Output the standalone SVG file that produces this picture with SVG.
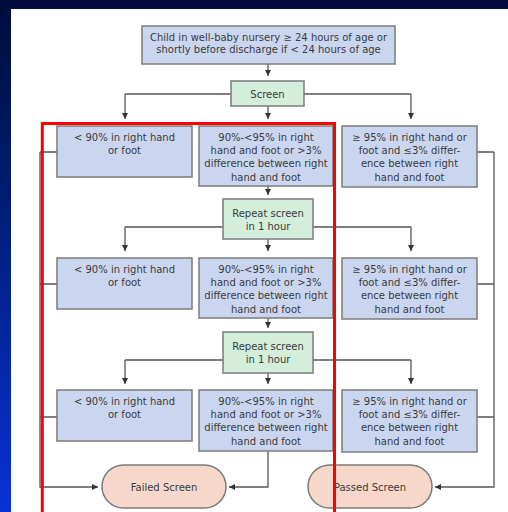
<svg xmlns="http://www.w3.org/2000/svg" width="508" height="512" viewBox="0 0 508 512">
<defs>
<linearGradient id="bg" x1="0" y1="0" x2="0" y2="1">
<stop offset="0" stop-color="#000c3a"/>
<stop offset="0.35" stop-color="#001c6e"/>
<stop offset="1" stop-color="#0832d6"/>
</linearGradient>
<marker id="ah" markerUnits="userSpaceOnUse" markerWidth="6" markerHeight="6" refX="6" refY="3" orient="auto">
<path d="M0,0 L6,3 L0,6 z" fill="#333"/>
</marker>
<style>
.box{fill:#cad6f0;stroke:#7b7b7b;stroke-width:1.5}
.grn{fill:#d3eedb;stroke:#7b7b7b;stroke-width:1.5}
.pill{fill:#f6d7ca;stroke:#7b7b7b;stroke-width:1.5}
text{font-family:"DejaVu Sans",Verdana,sans-serif;font-size:10px;fill:#3a3a3a;text-anchor:middle}
.c{fill:none;stroke:#555;stroke-width:1.3}
.a{marker-end:url(#ah)}
</style>
</defs>
<rect x="0" y="0" width="508" height="512" fill="url(#bg)"/>
<rect x="11" y="9" width="497" height="503" fill="#ffffff"/>

<g id="connectors">
<path class="c a" d="M268,64 V76"/>
<path class="c" d="M231,94 H125"/>
<path class="c a" d="M125,94 V119"/>
<path class="c" d="M304,94 H411"/>
<path class="c a" d="M411,94 V119"/>
<path class="c a" d="M268,106 V119"/>
<path class="c a" d="M268,186 V195"/>
<path class="c" d="M223,227 H125"/>
<path class="c a" d="M125,227 V251"/>
<path class="c" d="M313,227 H411"/>
<path class="c a" d="M411,227 V251"/>
<path class="c a" d="M268,239 V251"/>
<path class="c a" d="M268,318 V328"/>
<path class="c" d="M223,360 H125"/>
<path class="c a" d="M125,360 V384"/>
<path class="c" d="M313,360 H411"/>
<path class="c a" d="M411,360 V384"/>
<path class="c a" d="M268,373 V384"/>
<path class="c" d="M57,152 H40 M57,284 H40 M57,417 H40"/>
<path class="c a" d="M40,152 V487 H98"/>
<path class="c a" d="M268,451 V487 H229"/>
<path class="c" d="M477,152 H494 M477,284 H494 M477,417 H494"/>
<path class="c a" d="M494,152 V487 H435"/>
</g>

<g id="start">
<rect class="box" x="142" y="26" width="253" height="38"/>
<text x="268.5" y="40.5">Child in well-baby nursery ≥ 24 hours of age or</text>
<text x="268.5" y="52.5">shortly before discharge if &lt; 24 hours of age</text>
</g>
<g id="screen">
<rect class="grn" x="231" y="81" width="73" height="25"/>
<text x="267.5" y="97.5">Screen</text>
</g>

<g id="r1-low">
<rect class="box" x="57" y="126" width="135" height="51"/>
<text x="124.5" y="140.5">&lt; 90% in right hand</text>
<text x="124.5" y="154">or foot</text>
</g>
<g id="r1-mid">
<rect class="box" x="199" y="126" width="134" height="60"/>
<text x="266" y="140.5">90%-&lt;95% in right</text>
<text x="266" y="154">hand and foot or &gt;3%</text>
<text x="266" y="167.3">difference between right</text>
<text x="266" y="180.6">hand and foot</text>
</g>
<g id="r1-high">
<rect class="box" x="342" y="126" width="135" height="61"/>
<text x="409.5" y="140.5">≥ 95% in right hand or</text>
<text x="409.5" y="154">foot and ≤3% differ-</text>
<text x="409.5" y="167.3">ence between right</text>
<text x="409.5" y="180.6">hand and foot</text>
</g>
<g id="repeat1">
<rect class="grn" x="223" y="199" width="90" height="40"/>
<text x="268" y="216.5">Repeat screen</text>
<text x="268" y="229.5">in 1 hour</text>
</g>

<g id="r2-low">
<rect class="box" x="57" y="258" width="135" height="51"/>
<text x="124.5" y="272.5">&lt; 90% in right hand</text>
<text x="124.5" y="286">or foot</text>
</g>
<g id="r2-mid">
<rect class="box" x="199" y="258" width="134" height="60"/>
<text x="266" y="272.5">90%-&lt;95% in right</text>
<text x="266" y="286">hand and foot or &gt;3%</text>
<text x="266" y="299.3">difference between right</text>
<text x="266" y="312.6">hand and foot</text>
</g>
<g id="r2-high">
<rect class="box" x="342" y="258" width="135" height="61"/>
<text x="409.5" y="272.5">≥ 95% in right hand or</text>
<text x="409.5" y="286">foot and ≤3% differ-</text>
<text x="409.5" y="299.3">ence between right</text>
<text x="409.5" y="312.6">hand and foot</text>
</g>
<g id="repeat2">
<rect class="grn" x="223" y="332" width="90" height="41"/>
<text x="268" y="349.5">Repeat screen</text>
<text x="268" y="362.5">in 1 hour</text>
</g>

<g id="r3-low">
<rect class="box" x="57" y="390" width="135" height="51"/>
<text x="124.5" y="404.5">&lt; 90% in right hand</text>
<text x="124.5" y="418">or foot</text>
</g>
<g id="r3-mid">
<rect class="box" x="199" y="390" width="134" height="61"/>
<text x="266" y="404.5">90%-&lt;95% in right</text>
<text x="266" y="418">hand and foot or &gt;3%</text>
<text x="266" y="431.3">difference between right</text>
<text x="266" y="444.6">hand and foot</text>
</g>
<g id="r3-high">
<rect class="box" x="342" y="390" width="135" height="62"/>
<text x="409.5" y="404.5">≥ 95% in right hand or</text>
<text x="409.5" y="418">foot and ≤3% differ-</text>
<text x="409.5" y="431.3">ence between right</text>
<text x="409.5" y="444.6">hand and foot</text>
</g>

<g id="failed">
<rect class="pill" x="102" y="465" width="124" height="43" rx="21.5"/>
<text x="164" y="490.5">Failed Screen</text>
</g>
<g id="passed">
<rect class="pill" x="308" y="465" width="124" height="43" rx="21.5"/>
<text x="370" y="490.5">Passed Screen</text>
</g>

<rect id="highlight" x="42.3" y="123.5" width="292.2" height="400" fill="none" stroke="#ff0000" stroke-width="3"/>
</svg>
